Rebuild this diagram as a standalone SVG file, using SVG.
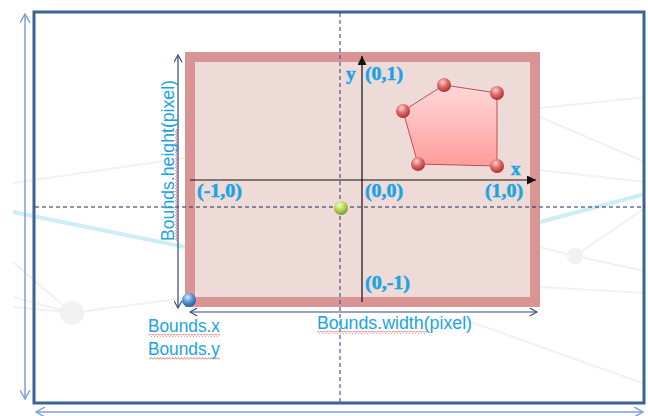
<svg xmlns="http://www.w3.org/2000/svg" width="648" height="416" viewBox="0 0 648 416">
<defs>
<style>
.bg{stroke:#f1f1f1;stroke-width:2;fill:none}
.bgc{fill:#f1f1f1}
.bgb{stroke:#cdeef9;stroke-width:4;fill:none}
.lbl{font-family:"Liberation Sans",Arial,sans-serif;font-size:17.5px;fill:#1aa3e6}
.coord{font-family:"Liberation Serif","Times New Roman",serif;font-weight:bold;font-size:19px;fill:#1aa3e6;stroke:#1aa3e6;stroke-width:0.5}
.dim{stroke:#2f4a7a;stroke-width:1.2;fill:none}
.outerdim{stroke:#7d9fd6;stroke-width:1.5;fill:none}
.axis{stroke:#111;stroke-width:1.2;fill:none}
</style>
<marker id="chev" viewBox="0 0 10 10" refX="9" refY="5" markerWidth="9" markerHeight="9" markerUnits="userSpaceOnUse" orient="auto-start-reverse">
<path d="M1,0.5 L9,5 L1,9.5" fill="none" stroke="#2f4a7a" stroke-width="1.3"/>
</marker>
<marker id="chevL" viewBox="0 0 10 10" refX="9" refY="5" markerWidth="11" markerHeight="11" markerUnits="userSpaceOnUse" orient="auto-start-reverse">
<path d="M1,0.5 L9,5 L1,9.5" fill="none" stroke="#7d9fd6" stroke-width="1.3"/>
</marker>
<marker id="tri" viewBox="0 0 10 10" refX="10" refY="5" markerWidth="9" markerHeight="9" markerUnits="userSpaceOnUse" orient="auto">
<path d="M0,0 L10,5 L0,10 Z" fill="#111"/>
</marker>
<radialGradient id="gRed" cx="0.4" cy="0.3" r="0.7">
<stop offset="0" stop-color="#ffd0d0"/><stop offset="0.5" stop-color="#e06a6a"/><stop offset="1" stop-color="#a83232"/>
</radialGradient>
<radialGradient id="gGreen" cx="0.4" cy="0.3" r="0.7">
<stop offset="0" stop-color="#f4ffd0"/><stop offset="0.5" stop-color="#b9d85a"/><stop offset="1" stop-color="#7a9a2a"/>
</radialGradient>
<radialGradient id="gBlue" cx="0.4" cy="0.3" r="0.7">
<stop offset="0" stop-color="#d8ecff"/><stop offset="0.5" stop-color="#5b94dc"/><stop offset="1" stop-color="#2a5aa0"/>
</radialGradient>
<linearGradient id="gPoly" x1="0" y1="0" x2="0" y2="1">
<stop offset="0" stop-color="#ffd9d9"/><stop offset="1" stop-color="#ff9c9c"/>
</linearGradient>
<pattern id="squig" width="3" height="3" patternUnits="userSpaceOnUse">
<path d="M0,2.5 L1.5,0.5 L3,2.5" fill="none" stroke="#e05050" stroke-width="0.7"/>
</pattern>
</defs>
<rect width="648" height="416" fill="#ffffff"/>
<g id="background">
<path class="bg" d="M13,183 L185,158"/>
<path class="bg" d="M13,262 L72,313 M13,297 L72,313 M13,307 L72,313 M72,313 L185,298"/>
<circle class="bgc" cx="72" cy="313" r="12"/>
<path class="bgb" d="M13,212 L185,247"/>
<path class="bg" d="M540,108 L646,97 M540,117 L645,162 M540,170 L645,182 M575,256 L645,208 M540,247 L575,256 L645,271 M540,287 L645,293 M460,318 L645,384"/>
<circle class="bgc" cx="575" cy="256" r="8"/>
<path class="bgb" d="M540,222 L645,194"/>
</g>
<g id="frame">
<rect x="34" y="12" width="610" height="391" fill="none" stroke="#3d6395" stroke-width="3"/>
</g>
<g id="bounds-rect">
<rect x="190" y="57" width="345" height="245" fill="#eedad6" stroke="#d99593" stroke-width="10"/>
</g>
<g id="connectors">
<line class="outerdim" x1="25" y1="14" x2="25" y2="399" marker-start="url(#chevL)" marker-end="url(#chevL)"/>
<line class="outerdim" x1="36" y1="412" x2="643" y2="412" marker-start="url(#chevL)" marker-end="url(#chevL)"/>
<line x1="340" y1="13" x2="340" y2="403" stroke="#4b5b8c" stroke-width="1.2" stroke-dasharray="4,3"/>
<line x1="35" y1="207" x2="645" y2="207" stroke="#1f2d5a" stroke-width="1.1" stroke-dasharray="4,3"/>
<line class="axis" x1="190" y1="180" x2="536" y2="180" marker-end="url(#tri)"/>
<line class="axis" x1="362" y1="302" x2="362" y2="56" marker-end="url(#tri)"/>
<line class="dim" x1="178" y1="55" x2="178" y2="308" marker-start="url(#chev)" marker-end="url(#chev)"/>
<line class="dim" x1="190" y1="312" x2="537" y2="312" marker-start="url(#chev)" marker-end="url(#chev)"/>
</g>
<g id="polygon">
<polygon points="403,111 444,85 497,93 497,166 418,164" fill="url(#gPoly)" stroke="#c0504d" stroke-width="1"/>
<circle cx="403" cy="111" r="7" fill="url(#gRed)"/>
<circle cx="444" cy="85" r="7" fill="url(#gRed)"/>
<circle cx="497" cy="93" r="7" fill="url(#gRed)"/>
<circle cx="497" cy="166" r="7" fill="url(#gRed)"/>
<circle cx="418" cy="164" r="7" fill="url(#gRed)"/>
</g>
<g id="center-point">
<circle cx="341" cy="208" r="7" fill="url(#gGreen)"/>
</g>
<g id="origin-point">
<circle cx="189" cy="300" r="7" fill="url(#gBlue)"/>
</g>
<g id="axis-labels">
<text class="coord" x="346" y="80">y</text>
<text class="coord" x="365" y="80" textLength="38" lengthAdjust="spacingAndGlyphs">(0,1)</text>
<text class="coord" x="511" y="175">x</text>
<text class="coord" x="197" y="197" textLength="45" lengthAdjust="spacingAndGlyphs">(-1,0)</text>
<text class="coord" x="365" y="197" textLength="38" lengthAdjust="spacingAndGlyphs">(0,0)</text>
<text class="coord" x="485" y="197" textLength="38" lengthAdjust="spacingAndGlyphs">(1,0)</text>
<text class="coord" x="365" y="289" textLength="45" lengthAdjust="spacingAndGlyphs">(0,-1)</text>
</g>
<g id="bounds-labels">
<rect x="149" y="334" width="71" height="3" fill="url(#squig)"/>
<rect x="149" y="357" width="71" height="3" fill="url(#squig)"/>
<rect x="317" y="331" width="110" height="3" fill="url(#squig)"/>
<rect x="0" y="0" width="112" height="3" fill="url(#squig)" transform="translate(175,241) rotate(-90)"/>
<text class="lbl" x="148" y="332" textLength="72" lengthAdjust="spacingAndGlyphs">Bounds.x</text>
<text class="lbl" x="148" y="355" textLength="72" lengthAdjust="spacingAndGlyphs">Bounds.y</text>
<text class="lbl" x="317" y="329" textLength="155" lengthAdjust="spacingAndGlyphs">Bounds.width(pixel)</text>
<text class="lbl" transform="translate(174,241) rotate(-90)" textLength="161" lengthAdjust="spacingAndGlyphs">Bounds.height(pixel)</text>
</g>
</svg>
